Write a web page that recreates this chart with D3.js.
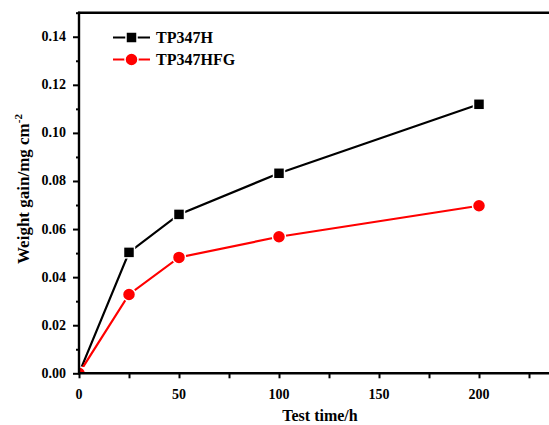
<!DOCTYPE html>
<html>
<head>
<meta charset="utf-8">
<script src="https://cdn.jsdelivr.net/npm/d3@7/dist/d3.min.js"></script>
<style>
  html, body { margin: 0; padding: 0; background: #fff; }
  svg { display: block; }
</style>
</head>
<body>
<svg id="chart" width="549" height="425"></svg>
<script>
// Oxidation test: weight gain versus exposure time
const testTime = [0, 25, 50, 100, 200];
const tp347h   = [0.0, 0.0503, 0.0661, 0.0832, 0.1119];
const tp347hfg = [0.0, 0.0328, 0.0482, 0.0568, 0.0697];
const seriesNames = ["TP347H", "TP347HFG"];
const xTicks = [0, 50, 100, 150, 200];
const yTicks = [0.00, 0.02, 0.04, 0.06, 0.08, 0.10, 0.12, 0.14];

const FONT = "'Liberation Serif', 'Times New Roman', Tinos, 'DejaVu Serif', serif";
const W = 549, H = 425;
const svg = d3.select("#chart");

const x = d3.scaleLinear().domain([0, 250]).range([79, 579]);
const y = d3.scaleLinear().domain([0, 0.15]).range([373.3, 12.7]);

const series = [
  { name: seriesNames[0], values: tp347h,   color: "#000000", shape: "square" },
  { name: seriesNames[1], values: tp347hfg, color: "#ff0000", shape: "circle" }
];

function label(g) {
  return g.append("text")
    .style("font-family", FONT)
    .style("font-weight", "bold")
    .attr("fill", "#000");
}

// clip marks to the plotting area
svg.append("defs").append("clipPath").attr("id", "plotClip")
  .append("rect")
  .attr("x", x(0)).attr("y", y(0.15))
  .attr("width", x(250) - x(0)).attr("height", y(0) - y(0.15));

const plot = svg.append("g").attr("clip-path", "url(#plotClip)");

const line = d3.line().x(d => x(d[0])).y(d => y(d[1]));

function drawMarker(g, shape, cx, cy, color, size) {
  if (shape === "square") {
    g.append("rect")
      .attr("x", cx - size / 2).attr("y", cy - size / 2)
      .attr("width", size).attr("height", size)
      .attr("fill", color).attr("stroke", "#fff").attr("stroke-width", 1.5);
  } else {
    g.append("circle")
      .attr("cx", cx).attr("cy", cy).attr("r", size / 2)
      .attr("fill", color).attr("stroke", "#fff").attr("stroke-width", 1.5);
  }
}

series.forEach(s => {
  const pts = testTime.map((t, i) => [t, s.values[i]]);
  plot.append("path")
    .attr("d", line(pts))
    .attr("fill", "none")
    .attr("stroke", s.color)
    .attr("stroke-width", 2.2);
});
series.forEach(s => {
  testTime.forEach((t, i) => {
    drawMarker(plot, s.shape, x(t), y(s.values[i]), s.color, s.shape === "square" ? 11 : 13);
  });
});

// x axis
const xAxis = svg.append("g").attr("transform", `translate(0,${y(0)})`);
xAxis.call(d3.axisBottom(x).tickValues(d3.range(0, 251, 25)).tickSize(5).tickFormat(""))
  .call(g => g.select(".domain").remove())
  .call(g => g.selectAll("line").attr("stroke", "#000").attr("stroke-width", 2));
xAxis.append("line").attr("x1", x(0) - 1).attr("x2", W).attr("y1", 0).attr("y2", 0)
  .attr("stroke", "#000").attr("stroke-width", 2.4);
xTicks.forEach(d => {
  label(xAxis).attr("x", x(d)).attr("y", 25.5)
    .attr("text-anchor", "middle").style("font-size", "14px")
    .text(d);
});

// y axis
const yAxis = svg.append("g").attr("transform", `translate(${x(0)},0)`);
yAxis.call(d3.axisLeft(y).tickValues(d3.range(0, 0.1501, 0.01)).tickSize(6).tickFormat(""))
  .call(g => g.select(".domain").remove())
  .call(g => g.selectAll(".tick line")
    .attr("stroke", "#000").attr("stroke-width", 2)
    .attr("x2", (d, i) => i % 2 === 0 ? -6 : -3));
yAxis.append("line").attr("x1", 0).attr("x2", 0).attr("y1", y(0.15) - 1).attr("y2", y(0) + 1)
  .attr("stroke", "#000").attr("stroke-width", 2.4);
yTicks.forEach(d => {
  label(yAxis).attr("x", -13).attr("y", y(d) + 4.5)
    .attr("text-anchor", "end").style("font-size", "14px")
    .text(d.toFixed(2));
});

// top frame line
svg.append("line").attr("x1", x(0) - 1).attr("x2", W)
  .attr("y1", y(0.15)).attr("y2", y(0.15))
  .attr("stroke", "#000").attr("stroke-width", 2.4);

// axis titles
label(svg)
  .attr("x", 320).attr("y", 421)
  .attr("text-anchor", "middle").style("font-size", "16px")
  .text("Test time/h");

const yt = label(svg)
  .attr("transform", "translate(29,189) rotate(-90)")
  .attr("text-anchor", "middle").style("font-size", "17px");
yt.append("tspan").text("Weight gain/mg cm");
yt.append("tspan").attr("dy", -7).style("font-size", "11px").text("-2");

// legend
const legend = svg.append("g");
series.forEach((s, i) => {
  const cy = 37.5 + i * 22;
  legend.append("line").attr("x1", 113).attr("x2", 150).attr("y1", cy).attr("y2", cy)
    .attr("stroke", s.color).attr("stroke-width", 2.2);
  drawMarker(legend, s.shape, 131.5, cy, s.color, s.shape === "square" ? 11 : 13);
  label(legend).attr("x", 156).attr("y", cy + 5.5)
    .style("font-size", "16px").text(s.name);
});
</script>
</body>
</html>
